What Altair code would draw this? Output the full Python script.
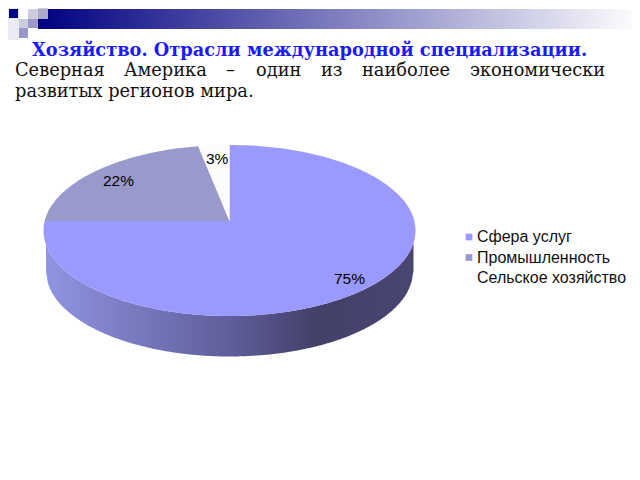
import math
import altair as alt
import pandas as pd

names = ["Сфера услуг", "Промышленность", "Сельское хозяйство"]
values = [75, 22, 3]
colors = ["#9999ff", "#9999cc", "#fcfcfc"]
label_text = ["75%", "22%", "3%"]
title_text = "Хозяйство. Отрасли международной специализации."
line1_words = ["Северная", "Америка", "–", "один", "из", "наиболее", "экономически"]
line2_text = "развитых регионов мира."

W, H = 624, 464
CX, CY, RX, RY, K = 229.5, 230.5, 186.0, 85.5, 0.111
DEPTH_CY, DEPTH_RX = 271.0, 183.5
SERIF = "DejaVu Serif"
SANS = "Liberation Sans"

xs = alt.Scale(domain=[8, 8 + W], range=[0, W], nice=False, zero=False)
ys = alt.Scale(domain=[8, 8 + H], range=[0, H], nice=False, zero=False)
X = alt.X("x:Q", scale=xs, axis=None)
Y = alt.Y("y:Q", scale=ys, axis=None)


def disc(theta):
    """Map an angle on the tilted disc to the picture (perspective ellipse)."""
    u, v = math.sin(theta), math.cos(theta)
    d = 1 + K * v
    return (CX + RX * u * math.sqrt(1 - K * K) / d, CY - RY * (v + K) / d)


rows = []
start = 0.0
for name, val in zip(names, values):
    end = start + val / sum(values)
    apex = (CX, CY - RY * K)
    pts = [apex]
    n = max(4, int(val * 2))
    for i in range(n + 1):
        pts.append(disc(2 * math.pi * (start + (end - start) * i / n)))
    pts.append(apex)
    for i, (x, y) in enumerate(pts):
        rows.append({"name": name, "i": i, "x": x, "y": y})
    start = end
pie_df = pd.DataFrame(rows)

slices = alt.Chart(pie_df).mark_line(strokeWidth=0, interpolate="linear").encode(
    x=X, y=Y, order="i:Q", detail="name:N",
    fill=alt.Fill("name:N",
                  scale=alt.Scale(domain=names, range=colors),
                  legend=alt.Legend(
                      title=None, orient="none", legendX=453, legendY=221,
                      symbolType="square", symbolSize=45, symbolStrokeWidth=0,
                      labelFont=SANS, labelFontSize=16, labelColor="#111111",
                      rowPadding=4.5, labelOffset=0, labelLimit=200)),
)

side_rows = []
for i in range(0, 185):
    x = 46 + (413.5 - 46) * i / 184
    t = max(-1, min(1, (x - CX) / RX))
    top = CY + RY * math.sqrt(1 - t * t)
    b = max(-1, min(1, (x - CX) / DEPTH_RX))
    bot = DEPTH_CY + RY * math.sqrt(1 - b * b)
    side_rows.append({"x": x, "y": top, "y2": bot})
side = alt.Chart(pd.DataFrame(side_rows)).mark_area(
    color=alt.Gradient(
        gradient="linear", x1=0, x2=1, y1=0, y2=0,
        stops=[alt.GradientStop(offset=0, color="#9094e2"),
               alt.GradientStop(offset=0.5, color="#5f5e9a"),
               alt.GradientStop(offset=0.74, color="#423f68"),
               alt.GradientStop(offset=1, color="#4a4672")])
).encode(x=X, y=Y, y2="y2:Q")

band = alt.Chart(pd.DataFrame([{"x": 38, "x2": 632, "y": 9, "y2": 29}])).mark_rect(
    color=alt.Gradient(
        gradient="linear", x1=0, x2=1, y1=0, y2=0,
        stops=[alt.GradientStop(offset=0, color="#000080"),
               alt.GradientStop(offset=1, color="#fbfbfd")])
).encode(x=X, x2="x2:Q", y=Y, y2="y2:Q")

squares = alt.Chart(pd.DataFrame([
    {"x": 8, "x2": 19, "y": 8, "y2": 40, "c": "#ebebf6"},
    {"x": 38, "x2": 48, "y": 8, "y2": 9, "c": "#ccccdd"},
    {"x": 9, "x2": 18, "y": 9, "y2": 18, "c": "#000080"},
    {"x": 28, "x2": 38, "y": 9, "y2": 19, "c": "#ccccdd"},
    {"x": 38, "x2": 48, "y": 9, "y2": 19, "c": "#aaaacc"},
    {"x": 19, "x2": 28, "y": 19, "y2": 28, "c": "#ccccdd"},
    {"x": 28, "x2": 38, "y": 19, "y2": 28, "c": "#9999cc"},
    {"x": 19, "x2": 28, "y": 28, "y2": 38, "c": "#9999cc"},
])).mark_rect().encode(x=X, x2="x2:Q", y=Y, y2="y2:Q",
                       color=alt.Color("c:N", scale=None))


def text(s, x, y, size, font, color="#111111", weight="normal"):
    return alt.Chart(pd.DataFrame([{"t": s}])).mark_text(
        align="left", baseline="alphabetic", font=font, fontSize=size,
        color=color, fontWeight=weight
    ).encode(x=alt.value(x - 8), y=alt.value(y - 8), text="t:N")


word_x = [15, 124, 226, 256, 321, 362, 470]
texts = [text(title_text, 32, 56, 17.8, SERIF, "#1a1aff", "bold")]
texts += [text(w, x, 76, 17.8, SERIF) for w, x in zip(line1_words, word_x)]
texts += [text(line2_text, 15, 97, 17.8, SERIF)]
for lab, x, y in zip(label_text, [334, 103, 206], [284, 186, 164]):
    texts.append(text(lab, x, y, 15.5, SANS, "#000000"))

chart = alt.layer(band, squares, side, slices, *texts).properties(
    width=W, height=H, padding=0,
    autosize=alt.AutoSizeParams(type="none"),
    background="#ffffff",
).configure_view(stroke=None)

chart.save("out.html", embed_options={"renderer": "svg", "actions": False})
